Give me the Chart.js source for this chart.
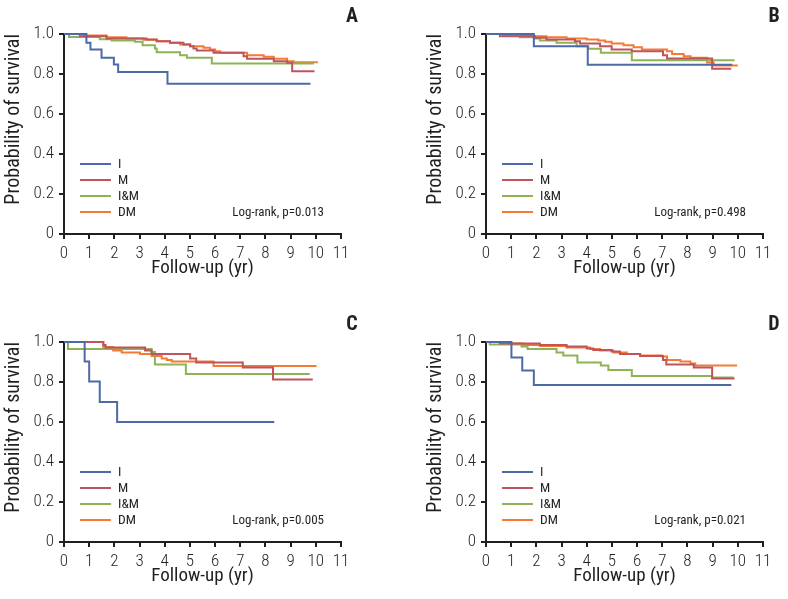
<!DOCTYPE html>
<html>
<head>
<meta charset="utf-8">
<script src="https://cdn.jsdelivr.net/npm/chart.js@4.4.1/dist/chart.umd.min.js"></script>
<style>
  html, body { margin: 0; padding: 0; background: #ffffff; }
  #wrap { position: relative; width: 788px; height: 599px; background: #ffffff; overflow: hidden; }
  #wrap canvas { position: absolute; }
</style>
</head>
<body>
<div id="wrap">
  <canvas id="cA" width="366" height="291" style="left:0px;top:0px;width:366px;height:291px"></canvas>
  <canvas id="cB" width="366" height="291" style="left:422px;top:0px;width:366px;height:291px"></canvas>
  <canvas id="cC" width="366" height="291" style="left:0px;top:308px;width:366px;height:291px"></canvas>
  <canvas id="cD" width="366" height="291" style="left:422px;top:308px;width:366px;height:291px"></canvas>
</div>
<script>
// ---- tick labels / categories ----
const xTicks = [0,1,2,3,4,5,6,7,8,9,10,11];
const yTicks = [0,0.2,0.4,0.6,0.8,1.0];
const groups = ['I','M','I&M','DM'];
const panelLetters = ['A','B','C','D'];
const pValues = ['0.013','0.498','0.005','0.021'];

// ---- survival step data: [time (yr), survival] ----
const A_I  = [[0,1],[0.89,0.956],[1.05,0.922],[1.49,0.881],[1.98,0.848],[2.15,0.81],[4.11,0.751],[9.79,0.751]];
const A_M  = [[0,1],[0.63,0.989],[1.69,0.978],[3.28,0.972],[3.68,0.964],[4.21,0.956],[4.74,0.948],[5.01,0.939],[5.14,0.928],[5.27,0.918],[5.94,0.906],[7.13,0.889],[7.27,0.876],[8.33,0.864],[8.86,0.856],[9.06,0.814],[9.95,0.814]];
const A_IM = [[0,1],[0.2,0.985],[1.42,0.974],[1.89,0.967],[2.82,0.961],[3.12,0.944],[3.61,0.927],[3.68,0.909],[4.61,0.894],[4.88,0.881],[5.87,0.853],[9.92,0.853]];
const A_DM = [[0,1],[0.76,0.992],[1.69,0.984],[2.48,0.978],[3.15,0.971],[3.68,0.964],[4.21,0.956],[4.61,0.948],[5.01,0.939],[5.54,0.931],[5.8,0.922],[6.0,0.914],[6.2,0.906],[7.27,0.894],[7.93,0.886],[8.33,0.876],[8.86,0.864],[9.12,0.859],[10.08,0.859]];

const B_I  = [[0,1],[1.9,0.939],[4.04,0.846],[9.78,0.846]];
const B_M  = [[0,1],[0.55,0.989],[1.94,0.981],[2.4,0.972],[3.53,0.964],[3.73,0.953],[4.53,0.939],[4.99,0.922],[5.79,0.914],[7.03,0.894],[7.19,0.878],[8.98,0.826],[9.74,0.826]];
const B_IM = [[0,1],[1.34,0.984],[1.94,0.978],[2.14,0.967],[2.8,0.956],[3.6,0.939],[4.06,0.926],[4.56,0.906],[5.79,0.869],[9.87,0.869]];
const B_DM = [[0,1],[0.68,0.995],[1.74,0.989],[2.4,0.984],[3.2,0.978],[4.0,0.972],[4.46,0.967],[4.73,0.961],[4.99,0.953],[5.46,0.944],[5.86,0.934],[6.19,0.922],[7.19,0.914],[7.39,0.9],[7.85,0.889],[8.12,0.881],[8.78,0.858],[9.04,0.843],[10.0,0.843]];

const C_I  = [[0,1],[0.82,0.902],[1.0,0.802],[1.42,0.70],[2.11,0.60],[8.35,0.60]];
const C_M  = [[0,1],[1.56,0.985],[1.65,0.973],[3.22,0.957],[3.48,0.94],[5.01,0.918],[5.25,0.898],[7.1,0.872],[8.3,0.813],[9.88,0.813]];
const C_IM = [[0,1],[0.16,0.965],[3.48,0.95],[3.61,0.888],[4.84,0.84],[9.76,0.84]];
const C_DM = [[0,1],[1.56,0.975],[1.95,0.957],[2.29,0.947],[3.02,0.94],[3.48,0.93],[3.88,0.918],[4.08,0.91],[4.28,0.902],[5.94,0.88],[10.03,0.88]];

const D_I  = [[0,1],[1.01,0.923],[1.44,0.857],[1.9,0.785],[9.74,0.785]];
const D_M  = [[0,1],[0.55,0.993],[2.14,0.985],[3.2,0.977],[4.0,0.968],[4.26,0.96],[4.99,0.952],[5.32,0.94],[6.12,0.93],[7.03,0.91],[7.16,0.888],[8.25,0.873],[8.98,0.818],[9.87,0.818]];
const D_IM = [[0,1],[0.15,0.988],[1.41,0.977],[1.65,0.965],[2.8,0.947],[3.07,0.932],[3.63,0.898],[4.56,0.882],[4.86,0.86],[5.79,0.83],[8.98,0.823],[9.84,0.823]];
const D_DM = [[0,1],[0.55,0.993],[1.47,0.985],[2.14,0.98],[3.2,0.973],[4.13,0.965],[4.53,0.957],[5.06,0.948],[5.59,0.94],[6.12,0.932],[6.99,0.927],[7.19,0.91],[7.72,0.902],[8.12,0.893],[8.31,0.882],[9.97,0.882]];

const panelSeries = [
  [A_I, A_M, A_IM, A_DM],
  [B_I, B_M, B_IM, B_DM],
  [C_I, C_M, C_IM, C_DM],
  [D_I, D_M, D_IM, D_DM]
];

// ---- styles ----
const colors = ['#4e6aa6', '#c0545c', '#8db356', '#f57a33'];
const FONT = "'Roboto Condensed', 'Liberation Sans Narrow', Roboto, sans-serif";
const INK = '#231f20';

const overlayPlugin = {
  id: 'kmOverlay',
  afterDatasetsDraw(chart, args, opts) {
    const ctx = chart.ctx;
    const ca = chart.chartArea;
    ctx.save();
    ctx.font = '13.5px ' + FONT;
    ctx.textBaseline = 'middle';
    ctx.textAlign = 'left';
    const rows = [70, 54, 38, 22];
    chart.data.datasets.forEach((ds, i) => {
      const y = ca.bottom - rows[i];
      ctx.strokeStyle = ds.borderColor;
      ctx.lineWidth = 2;
      ctx.beginPath();
      ctx.moveTo(ca.left + 16, y);
      ctx.lineTo(ca.left + 47, y);
      ctx.stroke();
      ctx.fillStyle = INK;
      ctx.fillText(ds.label, ca.left + 54, y + 1);
    });
    ctx.font = '13px ' + FONT;
    ctx.textAlign = 'right';
    ctx.fillText('Log-rank, p=' + opts.p, ca.right - 17, ca.bottom - 21);
    ctx.font = 'bold 20px ' + FONT;
    ctx.textAlign = 'center';
    ctx.fillText(opts.letter, 352, 17);
    ctx.restore();
  }
};

function makePanel(canvasId, idx) {
  const series = panelSeries[idx];
  const datasets = series.map((s, i) => ({
    label: groups[i],
    data: s.map(p => ({x: p[0], y: p[1]})),
    borderColor: colors[i],
    backgroundColor: colors[i],
    borderWidth: 2,
    pointRadius: 0,
    stepped: true,
    fill: false,
    clip: false
  }));
  new Chart(document.getElementById(canvasId), {
    type: 'line',
    data: { datasets },
    options: {
      responsive: false,
      animation: false,
      devicePixelRatio: 1,
      layout: { padding: { top: 34, right: 25, left: 0, bottom: 0 } },
      plugins: {
        legend: { display: false },
        tooltip: { enabled: false },
        kmOverlay: { letter: panelLetters[idx], p: pValues[idx] }
      },
      scales: {
        x: {
          type: 'linear',
          min: 0, max: 11,
          afterBuildTicks: s => { s.ticks = xTicks.map(v => ({value: v})); },
          afterFit: s => { s.height = 57; },
          ticks: { color: INK, font: { family: FONT, size: 17, weight: 300 }, padding: 5, maxRotation: 0, autoSkip: false },
          grid: { display: true, drawOnChartArea: false, drawTicks: true, tickLength: 5, color: INK, lineWidth: 2 },
          border: { display: true, color: INK, width: 2 },
          title: { display: true, text: 'Follow-up (yr)', color: INK, font: { family: FONT, size: 19 }, padding: { top: 0, bottom: 11 } }
        },
        y: {
          type: 'linear',
          min: 0, max: 1,
          afterBuildTicks: s => { s.ticks = yTicks.map(v => ({value: v})); },
          afterFit: s => { s.width = 64; },
          ticks: { color: INK, font: { family: FONT, size: 17, weight: 300 }, padding: 5,
                   callback: v => (v === 0 ? '0' : v.toFixed(1)) },
          grid: { display: true, drawOnChartArea: false, drawTicks: true, tickLength: 5, color: INK, lineWidth: 2 },
          border: { display: true, color: INK, width: 2 },
          title: { display: true, text: 'Probability of survival', align: 'end', color: INK, font: { family: FONT, size: 20 }, padding: { top: 2, bottom: 0 } }
        }
      }
    },
    plugins: [overlayPlugin]
  });
}

makePanel('cA', 0);
makePanel('cB', 1);
makePanel('cC', 2);
makePanel('cD', 3);
</script>
</body>
</html>
